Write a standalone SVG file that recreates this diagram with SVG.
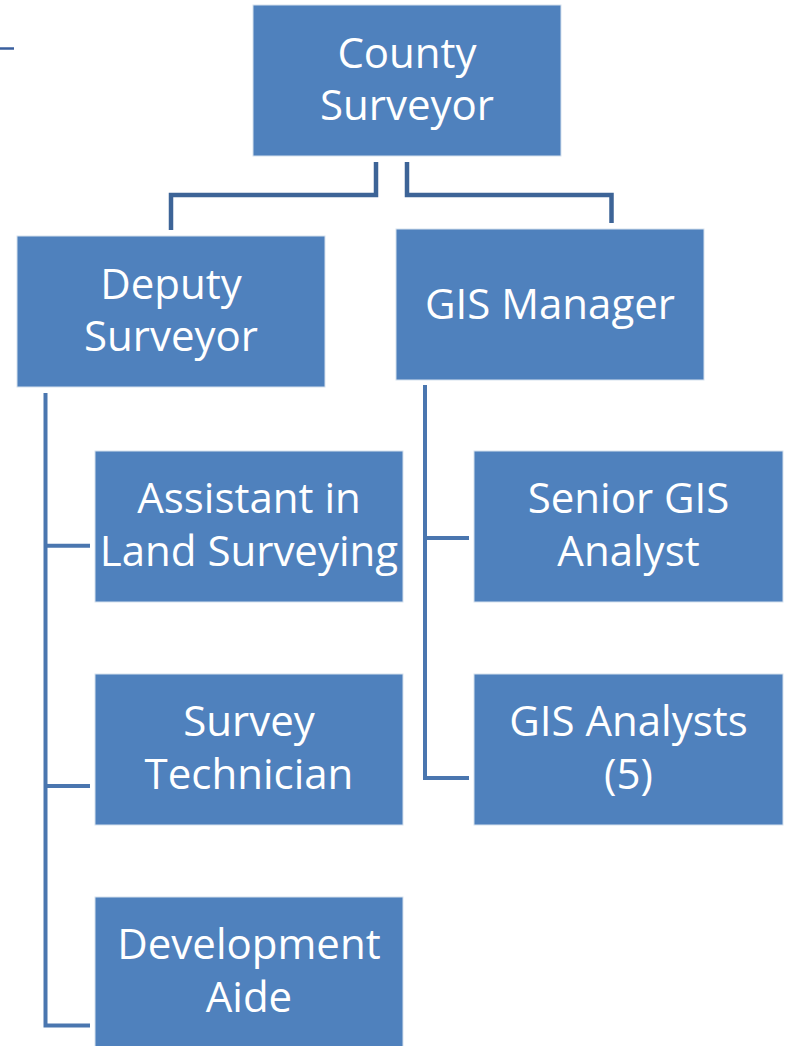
<svg xmlns="http://www.w3.org/2000/svg" width="788" height="1046" viewBox="0 0 788 1046">
  <style>
    .box { fill: #4F81BD; stroke: #D6E1EE; stroke-width: 1; }
    .lbl { font-family: "Open Sans", "Noto Sans", "Liberation Sans", sans-serif; font-size: 42px; fill: #FFFFFF; text-anchor: middle; }
    .top { fill: none; stroke: #3D6497; stroke-width: 4.5; }
    .sub { fill: none; stroke: #4A76AF; stroke-width: 4; }
  </style>
  <rect width="788" height="1046" fill="#FFFFFF"/>
  <line x1="0" y1="48.5" x2="14" y2="48.5" stroke="#3A5F9E" stroke-width="2.5"/>
  <g id="connectors">
    <polyline class="top" points="376,162 376,195 171,195 171,230"/>
    <polyline class="top" points="407,162 407,195 611.5,195 611.5,223"/>
    <polyline class="sub" points="45.5,393 45.5,1025.5 90,1025.5"/>
    <line class="sub" x1="45.5" y1="545.7" x2="90" y2="545.7"/>
    <line class="sub" x1="45.5" y1="786" x2="90" y2="786"/>
    <polyline class="sub" points="425,385 425,778 469,778"/>
    <line class="sub" x1="425" y1="538" x2="469" y2="538"/>
  </g>
  <g id="county-surveyor">
    <rect class="box" x="253" y="5" width="308" height="151"/>
    <text class="lbl" x="407" y="68">County</text>
    <text class="lbl" x="407" y="120">Surveyor</text>
  </g>
  <g id="deputy-surveyor">
    <rect class="box" x="17" y="236" width="308" height="151"/>
    <text class="lbl" x="171" y="299">Deputy</text>
    <text class="lbl" x="171" y="351">Surveyor</text>
  </g>
  <g id="gis-manager">
    <rect class="box" x="396" y="229" width="308" height="151"/>
    <text class="lbl" x="550" y="319">GIS Manager</text>
  </g>
  <g id="assistant-land-surveying">
    <rect class="box" x="95" y="451" width="308" height="151"/>
    <text class="lbl" x="249" y="513">Assistant in</text>
    <text class="lbl" x="249" y="566">Land Surveying</text>
  </g>
  <g id="survey-technician">
    <rect class="box" x="95" y="674" width="308" height="151"/>
    <text class="lbl" x="249" y="736">Survey</text>
    <text class="lbl" x="249" y="789">Technician</text>
  </g>
  <g id="development-aide">
    <rect class="box" x="95" y="897" width="308" height="151"/>
    <text class="lbl" x="249" y="959">Development</text>
    <text class="lbl" x="249" y="1012">Aide</text>
  </g>
  <g id="senior-gis-analyst">
    <rect class="box" x="474" y="451" width="309" height="151"/>
    <text class="lbl" x="628.5" y="513">Senior GIS</text>
    <text class="lbl" x="628.5" y="566">Analyst</text>
  </g>
  <g id="gis-analysts">
    <rect class="box" x="474" y="674" width="309" height="151"/>
    <text class="lbl" x="628.5" y="736">GIS Analysts</text>
    <text class="lbl" x="628.5" y="789">(5)</text>
  </g>
</svg>
